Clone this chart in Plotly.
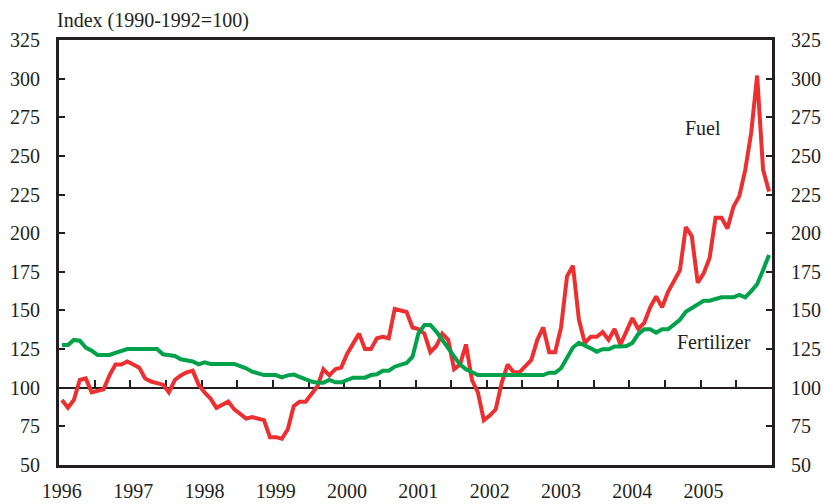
import plotly.graph_objects as go

years = list(range(1996, 2006))
year_labels = [str(y) for y in years]

fuel = [
    92, 87, 92, 105, 106, 97, 98, 99, 108, 115, 115, 117,      # 1996
    115, 113, 106, 104, 103, 102, 97, 105, 108, 110, 111, 102, # 1997
    97, 93, 87, 89, 91, 86, 83, 80, 81, 80, 79, 68,            # 1998
    68, 67, 73, 88, 91, 91, 96, 101, 112, 108, 112, 113,       # 1999
    122, 129, 135, 125, 125, 132, 133, 132, 151, 150, 149, 139, # 2000
    138, 135, 123, 127, 135, 131, 112, 115, 128, 105, 97, 79,  # 2001
    82, 86, 103, 115, 110, 110, 114, 118, 131, 139, 123, 123,  # 2002
    139, 172, 179, 144, 129, 133, 133, 136, 131, 138, 128, 136, # 2003
    145, 138, 142, 152, 159, 152, 162, 169, 176, 204, 198, 168, # 2004
    174, 184, 210, 210, 203, 217, 224, 241, 265, 302, 241, 227, # 2005
]

fertilizer = [
    127.6, 127.6, 130.9, 130.4, 126, 124, 121.2, 121.2, 121.2, 122.5, 124, 125,
    125, 125, 125, 125, 125, 121.6, 121, 120.5, 118.4, 118, 117, 115.1,
    116.4, 115.4, 115.4, 115.4, 115.4, 115.4, 114, 112.6, 110.4, 109, 108.2, 108.2,
    108.2, 106.7, 108, 108.5, 107, 105.4, 104, 103.3, 103.3, 105, 103.5, 103.5,
    105, 106.5, 106.5, 106.5, 108.2, 108.7, 111, 111, 113.6, 114.5, 116, 120.1,
    135.2, 140.6, 140.6, 136.3, 131, 126, 120, 115, 112, 110, 108.2, 108.2,
    108.2, 108.2, 108.2, 108.2, 108.2, 108.2, 108.2, 108.2, 108.2, 108.2, 109.7, 109.7,
    112.6, 120, 126, 129.1, 127.6, 125.5, 123.3, 124.9, 124.9, 126.6, 126.6, 127,
    129, 134.8, 137.8, 137.8, 135.6, 137.8, 137.8, 141, 144, 149.2, 151.4, 153.5,
    156.3, 156.3, 157.5, 158.5, 158.5, 158.5, 160, 158.5, 162.5, 167, 176.2, 185.9,
]

y_ticks = list(range(50, 326, 25))

# monthly positions (mid-month) in decimal years
months = [1996 + (i + 0.5) / 12 for i in range(len(fuel))]
half_years = [1996 + k / 2 for k in range(1, 20)]

INK = "#231f20"
FONT = "Liberation Serif"
FS = 20
RED = "#ec2f31"
GREEN = "#00a14b"

fig = go.Figure()
fig.add_trace(go.Scatter(x=months, y=fertilizer, mode="lines", name="Fertilizer",
                         xaxis="x2", yaxis="y2",
                         line=dict(color=GREEN, width=4), hoverinfo="skip"))
fig.add_trace(go.Scatter(x=months, y=fuel, mode="lines", name="Fuel",
                         line=dict(color=RED, width=4), hoverinfo="skip"))

ymin, ymax = 50, 325
base_pos = (100 - ymin) / (ymax - ymin)

fig.update_layout(
    width=824, height=504,
    margin=dict(l=59, r=52, t=40, b=39, autoexpand=False),
    paper_bgcolor="white", plot_bgcolor="white",
    showlegend=False,
    font=dict(family=FONT, size=FS, color=INK),
    xaxis=dict(range=[1996, 2006], showgrid=False, zeroline=False, automargin=False,
               showline=True, linecolor=INK, linewidth=3, mirror=True,
               ticks="", tickvals=[y + 0.04 for y in years], ticktext=year_labels,
               ticklabelstandoff=6, tickfont=dict(family=FONT, size=FS, color=INK)),
    xaxis2=dict(range=[1996, 2006], overlaying="x", anchor="free", position=base_pos,
                side="bottom", showgrid=False, zeroline=False, automargin=False,
                showline=True, linecolor=INK, linewidth=2, layer="below traces",
                ticks="inside", ticklen=7, tickwidth=2, tickcolor=INK,
                tickvals=half_years, showticklabels=False),
    yaxis=dict(range=[ymin, ymax], showgrid=False, zeroline=False, automargin=False,
               showline=True, linecolor=INK, linewidth=3,
               ticks="inside", ticklen=6, tickwidth=2, tickcolor=INK,
               tickvals=y_ticks, ticklabelstandoff=12,
               tickfont=dict(family=FONT, size=FS, color=INK)),
    yaxis2=dict(range=[ymin, ymax], overlaying="y", side="right", anchor="x",
                showgrid=False, zeroline=False, automargin=False,
                showline=True, linecolor=INK, linewidth=3,
                ticks="inside", ticklen=6, tickwidth=2, tickcolor=INK,
                tickvals=y_ticks, ticklabelstandoff=12,
                tickfont=dict(family=FONT, size=FS, color=INK)),
    annotations=[
        dict(text="Index (1990-1992=100)", xref="paper", yref="paper",
             x=-0.006, y=1.047, xanchor="left", yanchor="middle", showarrow=False,
             font=dict(family=FONT, size=FS, color=INK)),
        dict(text="Fuel", xref="x", yref="y", x=2005.03, y=268,
             xanchor="center", yanchor="middle", showarrow=False,
             font=dict(family=FONT, size=FS, color=INK)),
        dict(text="Fertilizer", xref="x", yref="y", x=2005.19, y=129.6,
             xanchor="center", yanchor="middle", showarrow=False,
             font=dict(family=FONT, size=FS, color=INK)),
    ],
)

fig.write_html("out.html", config={"displayModeBar": False},
               post_script="document.body.style.margin='0';document.body.style.padding='0';")
